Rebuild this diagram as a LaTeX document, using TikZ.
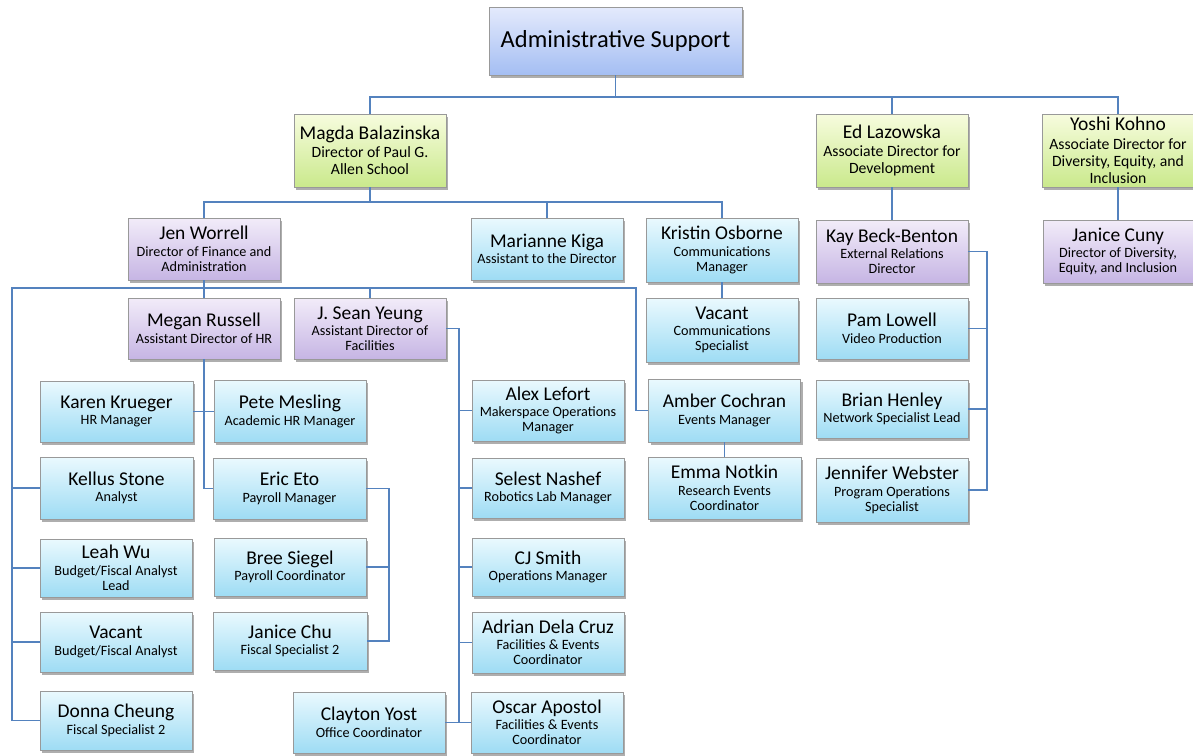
\documentclass[tikz,border=0pt]{standalone}
\usepackage{fontspec}
\setmainfont{Carlito}
\usetikzlibrary{shadows}
\definecolor{ln}{RGB}{84,130,190}
\definecolor{cyT}{RGB}{234,249,254}
\definecolor{cyB}{RGB}{158,220,244}
\definecolor{puT}{RGB}{242,236,249}
\definecolor{puB}{RGB}{198,181,228}
\definecolor{grT}{RGB}{247,252,222}
\definecolor{grB}{RGB}{202,233,140}
\definecolor{adT}{RGB}{228,234,252}
\definecolor{adB}{RGB}{164,190,243}
\newcommand{\pname}[1]{{\fontsize{19.5}{20}\selectfont #1}\\[1.5pt]}
\begin{document}
\begin{tikzpicture}[x=1pt,y=-1pt,
  box/.style={draw=black!40, line width=0.6pt, minimum width=152pt, inner sep=2pt,
    align=center, text=black, font=\fontsize{14.2}{15}\selectfont,
    drop shadow={shadow xshift=2pt, shadow yshift=-2.5pt, opacity=0.45, fill=black!70}},
  cbox/.style={box, top color=cyT, bottom color=cyB},
  pbox/.style={box, top color=puT, bottom color=puB},
  gbox/.style={box, top color=grT, bottom color=grB, font=\fontsize{15.7}{17}\selectfont},
  abox/.style={box, top color=adT, bottom color=adB, minimum width=253pt, font=\fontsize{24.5}{26}\selectfont},
  conn/.style={draw=ln, line width=1.4pt}]
\useasboundingbox (0,0) rectangle (1193,755);

% level 0
\node[abox, minimum height=68pt] (admin) at (615.5,41) {Administrative Support};
% level 1
\node[gbox, minimum height=73pt] (magda) at (370,150.5) {\pname{Magda Balazinska}Director of Paul G.\\Allen School};
\node[gbox, minimum height=73pt] (ed) at (892,150.5) {\pname{Ed Lazowska}Associate Director for\\Development};
\node[gbox, minimum height=73pt] (yoshi) at (1118,150.5) {\pname{Yoshi Kohno}Associate Director for\\Diversity, Equity, and\\Inclusion};
% level 2
\node[pbox, minimum height=62pt] (jen) at (204,249) {\pname{Jen Worrell}Director of Finance and\\Administration};
\node[cbox, minimum height=62pt] (marianne) at (547,249) {\pname{Marianne Kiga}Assistant to the Director};
\node[cbox, minimum height=64pt] (kristin) at (722,250) {\pname{Kristin Osborne}Communications\\Manager};
\node[pbox, minimum height=63pt] (kay) at (892,251.5) {\pname{Kay Beck-Benton}External Relations\\Director};
\node[pbox, minimum height=63pt, minimum width=150pt] (jcuny) at (1118,251.5) {\pname{Janice Cuny}Director of Diversity,\\Equity, and Inclusion};
% level 3
\node[pbox, minimum height=61pt] (megan) at (204,328.5) {\pname{Megan Russell}Assistant Director of HR};
\node[pbox, minimum height=61pt] (sean) at (370,328.5) {\pname{J. Sean Yeung}Assistant Director of\\Facilities};
\node[cbox, minimum height=64pt] (vcomm) at (722,330) {\pname{Vacant}Communications\\Specialist};
\node[cbox, minimum height=61pt] (pam) at (892,328.5) {\pname{Pam Lowell}Video Production};
% row 4
\node[cbox, minimum height=61pt, minimum width=153pt] (karen) at (116.5,411.5) {\pname{Karen Krueger}HR Manager};
\node[cbox, minimum height=62pt] (pete) at (290,411.5) {\pname{Pete Mesling}Academic HR Manager};
\node[cbox, minimum height=61pt] (alex) at (548,410.5) {\pname{Alex Lefort}Makerspace Operations\\Manager};
\node[cbox, minimum height=63pt] (amber) at (724.5,410.5) {\pname{Amber Cochran}Events Manager};
\node[cbox, minimum height=58pt] (brian) at (892,409) {\pname{Brian Henley}Network Specialist Lead};
% row 5
\node[cbox, minimum height=62pt, minimum width=153pt] (kellus) at (116.5,488) {\pname{Kellus Stone}Analyst};
\node[cbox, minimum height=61pt, minimum width=153pt] (eric) at (289.5,488.5) {\pname{Eric Eto}Payroll Manager};
\node[cbox, minimum height=60pt] (selest) at (548,488) {\pname{Selest Nashef}Robotics Lab Manager};
\node[cbox, minimum height=62pt, minimum width=153pt] (emma) at (724.5,488) {\pname{Emma Notkin}Research Events\\Coordinator};
\node[cbox, minimum height=64pt] (jennifer) at (892,490) {\pname{Jennifer Webster}Program Operations\\Specialist};
% row 6
\node[cbox, minimum height=58pt] (leah) at (116,568) {\pname{Leah Wu}Budget/Fiscal Analyst\\Lead};
\node[cbox, minimum height=58pt] (bree) at (290,567) {\pname{Bree Siegel}Payroll Coordinator};
\node[cbox, minimum height=58pt] (cj) at (548,567) {\pname{CJ Smith}Operations Manager};
% row 7
\node[cbox, minimum height=60pt] (vbudget) at (116,642) {\pname{Vacant}Budget/Fiscal Analyst};
\node[cbox, minimum height=58pt, minimum width=154pt] (jchu) at (290,641) {\pname{Janice Chu}Fiscal Specialist 2};
\node[cbox, minimum height=61pt] (adrian) at (548,642.5) {\pname{Adrian Dela Cruz}Facilities \& Events\\Coordinator};
% row 8
\node[cbox, minimum height=59pt] (donna) at (116,720.5) {\pname{Donna Cheung}Fiscal Specialist 2};
\node[cbox, minimum height=61pt] (clayton) at (369,722.5) {\pname{Clayton Yost}Office Coordinator};
\node[cbox, minimum height=61pt] (oscar) at (547,722.5) {\pname{Oscar Apostol}Facilities \& Events\\Coordinator};

% connectors
\coordinate (b1) at (615.5,97);
\draw[conn] (admin.south) -- (admin.south |- b1);
\draw[conn] (magda.north) |- (b1) -| (yoshi.north);
\draw[conn] (ed.north) -- (ed.north |- b1);

\coordinate (b2) at (370,202);
\draw[conn] (magda.south) -- (magda.south |- b2);
\draw[conn] (jen.north) |- (b2) -| (kristin.north);
\draw[conn] (marianne.north) -- (marianne.north |- b2);

\draw[conn] (ed.south) -- (kay.north);
\draw[conn] (yoshi.south) -- (jcuny.north);
\draw[conn] (kristin.south) -- (vcomm.north);
\draw[conn] (amber.south) -- (emma.north);

\coordinate (lv) at (12,288);
\coordinate (rv) at (636,288);
\draw[conn] (jen.south) -- (megan.north);
\draw[conn] (donna.west) -| (lv) -- (rv) |- (amber.west);
\draw[conn] (sean.north) -- (sean.north |- lv);
\draw[conn] (kellus.west) -- (kellus.west -| lv);
\draw[conn] (leah.west) -- (leah.west -| lv);
\draw[conn] (vbudget.west) -- (vbudget.west -| lv);

\draw[conn] (megan.south) |- (eric.west);
\draw[conn] (karen.east) -- (pete.west);

\coordinate (ev) at (389,0);
\draw[conn] (eric.east) -- (eric.east -| ev) |- (jchu.east);
\draw[conn] (bree.east) -- (bree.east -| ev);

\coordinate (sv) at (459,0);
\draw[conn] (sean.east) -- (sean.east -| sv) |- (oscar.west);
\draw[conn] (clayton.east) -- (oscar.west);
\draw[conn] (alex.west) -- (alex.west -| sv);
\draw[conn] (selest.west) -- (selest.west -| sv);
\draw[conn] (cj.west) -- (cj.west -| sv);
\draw[conn] (adrian.west) -- (adrian.west -| sv);

\coordinate (kv) at (987,0);
\draw[conn] (kay.east) -- (kay.east -| kv) |- (jennifer.east);
\draw[conn] (pam.east) -- (pam.east -| kv);
\draw[conn] (brian.east) -- (brian.east -| kv);
\end{tikzpicture}
\end{document}
